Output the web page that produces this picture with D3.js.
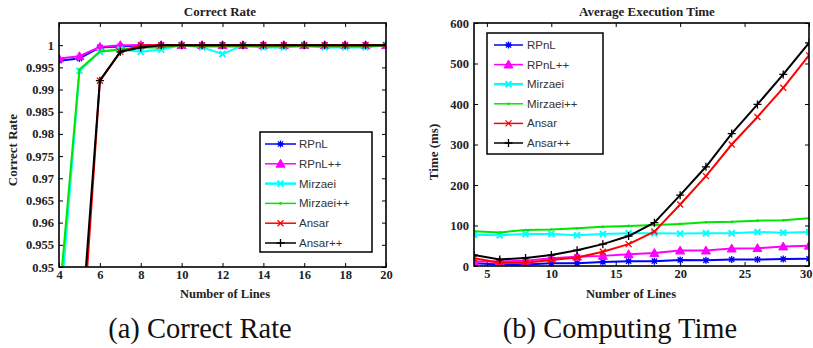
<!DOCTYPE html>
<html><head><meta charset="utf-8">
<script src="https://cdn.jsdelivr.net/npm/d3@7/dist/d3.min.js"></script>
<style>
body{margin:0;background:#fff;}
svg{display:block;}
</style></head>
<body>
<svg id="c" width="813" height="348"></svg>
<script>
// ---------- Data ----------
const seriesNames = ["RPnL","RPnL++","Mirzaei","Mirzaei++","Ansar","Ansar++"];
const seriesColors = ["#0000ff","#ff00ff","#00ffff","#00e600","#ff0000","#000000"];
const seriesMarkers = ["star","triangle","xbold","dot","x","plus"];

// (a) Correct rate, lines 4..20
const linesA = [4,5,6,7,8,9,10,11,12,13,14,15,16,17,18,19,20];
const rateRPnL     = [0.9965,0.997,0.9995,0.9997,1,1,1,1,1,1,1,1,1,1,1,1,1];
const rateRPnLpp   = [0.997,0.9975,0.9996,1,1,1,1,1,1,1,1,1,1,1,1,1,1];
const rateMirzaei  = [0.9368,0.9942,0.9985,0.999,0.9985,0.999,1,0.9995,0.998,1,0.9995,0.9995,1,0.9995,0.9995,0.9995,1];
const rateMirzaeipp= [0.9421,0.9945,0.9986,0.999,0.9995,0.9995,1,0.9997,0.9997,0.9997,0.9997,0.9997,0.9997,0.9997,0.9997,0.9997,1];
const rateAnsar    = [0.85,0.9237,0.992,0.9985,1,1,1,1,1,1,1,1,1,1,1,1,1];
const rateAnsarpp  = [0.86,0.9302,0.992,0.9985,0.9995,1,1,1,1,1,1,1,1,1,1,1,1];
const rateXTicks = [4,6,8,10,12,14,16,18,20];
const rateYTicks = [0.95,0.955,0.96,0.965,0.97,0.975,0.98,0.985,0.99,0.995,1];

// (b) Execution time (ms), lines 4..30 step 2
const linesB = [4,6,8,10,12,14,16,18,20,22,24,26,28,30];
const timeRPnL     = [7,4,4,7,7,10,12,12,15,14,16,16,17,18];
const timeRPnLpp   = [11,11,13,19,23,25,29,32,38,38,43,44,48,50];
const timeMirzaei  = [77,76,79,79,76,79,81,81,80,81,81,84,82,84];
const timeMirzaeipp= [86,83,89,90,93,97,99,101,104,108,109,112,113,118];
const timeAnsar    = [19,8,8,15,21,35,54,85,152,222,300,368,440,520];
const timeAnsarpp  = [27,16,20,27,39,54,74,107,175,245,327,399,473,551];
const timeXTicks = [5,10,15,20,25,30];
const timeYTicks = [0,100,200,300,400,500,600];

const svg = d3.select("#c");
const serif = "'Liberation Serif','Times New Roman',serif";
const sans = "'Liberation Sans',Arial,sans-serif";

function marker(g, type, color, x, y){
  const s = 3.5;
  if(type==="star"){
    const p = d3.path();
    p.moveTo(x-s,y);p.lineTo(x+s,y);
    p.moveTo(x,y-s);p.lineTo(x,y+s);
    p.moveTo(x-s*0.75,y-s*0.75);p.lineTo(x+s*0.75,y+s*0.75);
    p.moveTo(x-s*0.75,y+s*0.75);p.lineTo(x+s*0.75,y-s*0.75);
    g.append("path").attr("d",p.toString()).attr("stroke",color).attr("stroke-width",1.3).attr("fill","none");
  } else if(type==="triangle"){
    const t=4.5;
    g.append("path").attr("d",`M${x},${y-t}L${x+t},${y+t*0.75}L${x-t},${y+t*0.75}Z`).attr("fill",color).attr("stroke",color).attr("stroke-width",1);
  } else if(type==="xbold"){
    const p=d3.path(); const q=3;
    p.moveTo(x-q,y-q);p.lineTo(x+q,y+q);p.moveTo(x-q,y+q);p.lineTo(x+q,y-q);
    g.append("path").attr("d",p.toString()).attr("stroke",color).attr("stroke-width",2).attr("fill","none");
  } else if(type==="dot"){
    g.append("circle").attr("cx",x).attr("cy",y).attr("r",1.3).attr("fill",color);
  } else if(type==="x"){
    const p=d3.path(); const q=3;
    p.moveTo(x-q,y-q);p.lineTo(x+q,y+q);p.moveTo(x-q,y+q);p.lineTo(x+q,y-q);
    g.append("path").attr("d",p.toString()).attr("stroke",color).attr("stroke-width",1.3).attr("fill","none");
  } else if(type==="plus"){
    const p=d3.path(); const q=4;
    p.moveTo(x-q,y);p.lineTo(x+q,y);p.moveTo(x,y-q);p.lineTo(x,y+q);
    g.append("path").attr("d",p.toString()).attr("stroke",color).attr("stroke-width",1.3).attr("fill","none");
  }
}

function panel(cfg){
  const {id,x0,x1,y0,y1,xDomain,yDomain,xTicks,yTicks,yFmt,xVals,series,title,titleX,ylabel,ylabelX,ylabelY,xlabelX,caption,captionX,legend} = cfg;
  const x = d3.scaleLinear().domain(xDomain).range([x0,x1]);
  const y = d3.scaleLinear().domain(yDomain).range([y1,y0]);
  const g = svg.append("g");
  g.append("clipPath").attr("id",id).append("rect").attr("x",x0).attr("y",y0).attr("width",x1-x0).attr("height",y1-y0);

  const tl=4;
  const axB = g.append("g").attr("transform",`translate(0,${y1})`).call(d3.axisBottom(x).tickValues(xTicks).tickSize(-tl).tickPadding(3).tickFormat(d3.format("d")));
  const axT = g.append("g").attr("transform",`translate(0,${y0})`).call(d3.axisTop(x).tickValues(xTicks).tickSize(-tl).tickFormat(""));
  const axL = g.append("g").attr("transform",`translate(${x0},0)`).call(d3.axisLeft(y).tickValues(yTicks).tickSize(-tl).tickPadding(5).tickFormat(yFmt));
  const axR = g.append("g").attr("transform",`translate(${x1},0)`).call(d3.axisRight(y).tickValues(yTicks).tickSize(-tl).tickFormat(""));
  [axB,axT,axL,axR].forEach(a=>{
    a.select(".domain").remove();
    a.selectAll("line").attr("stroke","#000").attr("stroke-width",1);
    a.selectAll("text").attr("font-family",serif).attr("font-weight","bold").attr("font-size",12.5).attr("fill","#222");
  });
  axB.selectAll("text").attr("y",3).attr("dy","0.72em");
  axB.selectAll(".tick text").filter(function(d){ return x(d) + 8 > 813; })
     .attr("text-anchor","end").attr("x", function(d){ return 812 - x(d); });

  const lg = g.append("g").attr("clip-path",`url(#${id})`);
  const line = d3.line().x((d,i)=>x(xVals[i])).y(d=>y(d));
  series.forEach((vals,k)=>{
    lg.append("path").datum(vals).attr("d",line).attr("fill","none")
      .attr("stroke",seriesColors[k]).attr("stroke-width",2).attr("stroke-linejoin","round");
    vals.forEach((v,i)=>marker(lg,seriesMarkers[k],seriesColors[k],x(xVals[i]),y(v)));
  });

  g.append("rect").attr("x",x0).attr("y",y0).attr("width",x1-x0).attr("height",y1-y0)
   .attr("fill","none").attr("stroke","#000").attr("stroke-width",1.6);

  g.append("text").attr("x",titleX).attr("y",16).attr("text-anchor","middle")
   .attr("font-family",serif).attr("font-weight","bold").attr("font-size",13).attr("fill","#222").text(title);
  g.append("text").attr("transform",`translate(${ylabelX},${ylabelY}) rotate(-90)`).attr("text-anchor","middle")
   .attr("font-family",serif).attr("font-weight","bold").attr("font-size",13).attr("fill","#222").text(ylabel);
  g.append("text").attr("x",xlabelX).attr("y",298).attr("text-anchor","middle")
   .attr("font-family",serif).attr("font-weight","bold").attr("font-size",12.5).attr("fill","#222").text("Number of Lines");
  g.append("text").attr("x",captionX).attr("y",338).attr("text-anchor","middle")
   .attr("font-family",serif).attr("font-size",28.5).attr("fill","#111").text(caption);

  const L = legend;
  g.append("rect").attr("x",L.x).attr("y",L.y).attr("width",L.w).attr("height",L.h)
   .attr("fill","#fff").attr("stroke","#000").attr("stroke-width",1.5);
  seriesNames.forEach((n,k)=>{
    const yy = L.y + L.first + k*L.step;
    g.append("line").attr("x1",L.lx0).attr("x2",L.lx1).attr("y1",yy).attr("y2",yy)
     .attr("stroke",seriesColors[k]).attr("stroke-width",k===2?2.5:1.5);
    marker(g,seriesMarkers[k],seriesColors[k],(L.lx0+L.lx1)/2,yy);
    g.append("text").attr("x",L.tx).attr("y",yy+4).attr("font-family",sans).attr("font-size",11.5)
     .attr("fill","#333").text(n);
  });
}

panel({
  id:"clipA", x0:59, x1:386, y0:23, y1:267,
  xDomain:[4,20], yDomain:[0.95,1.005], xTicks:rateXTicks, yTicks:rateYTicks,
  yFmt:d=>String(+d.toFixed(3)), xVals:linesA,
  series:[rateRPnL,rateRPnLpp,rateMirzaei,rateMirzaeipp,rateAnsar,rateAnsarpp],
  title:"Correct Rate", titleX:220, ylabel:"Correct Rate", ylabelX:17, ylabelY:150,
  xlabelX:225, caption:"(a) Correct Rate", captionX:200,
  legend:{x:260,y:132,w:112,h:120,first:12,step:19.8,lx0:265,lx1:296,tx:299}
});
panel({
  id:"clipB", x0:474, x1:809, y0:23, y1:266,
  xDomain:[4,30], yDomain:[0,600], xTicks:timeXTicks, yTicks:timeYTicks,
  yFmt:d3.format("d"), xVals:linesB,
  series:[timeRPnL,timeRPnLpp,timeMirzaei,timeMirzaeipp,timeAnsar,timeAnsarpp],
  title:"Average Execution Time", titleX:647, ylabel:"Time (ms)", ylabelX:438, ylabelY:152,
  xlabelX:631, caption:"(b) Computing Time", captionX:620,
  legend:{x:487,y:33,w:116,h:121,first:12,step:19.6,lx0:494,lx1:523,tx:527}
});
</script>
</body></html>
